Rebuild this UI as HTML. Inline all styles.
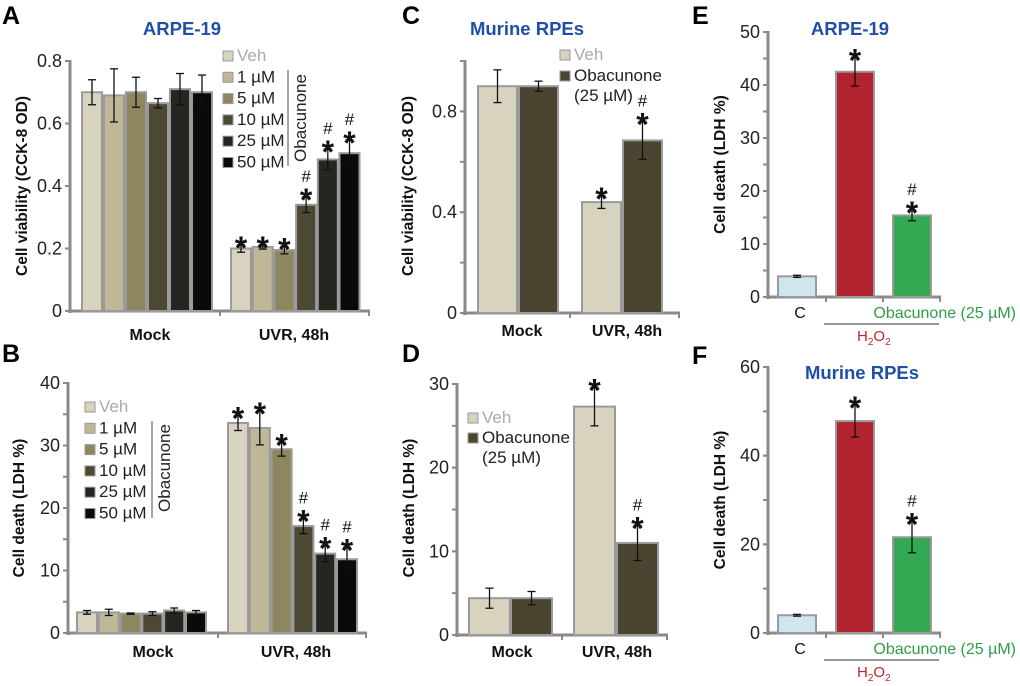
<!DOCTYPE html>
<html><head><meta charset="utf-8"><style>
html,body{margin:0;padding:0;background:#fff;}
svg{display:block;font-family:"Liberation Sans",sans-serif;}
</style></head><body>
<svg id="fig" width="1020" height="686" viewBox="0 0 1020 686" xmlns="http://www.w3.org/2000/svg"></svg>
<script>
// ---- Data ----
const doseLabels = ["Veh","1 µM","5 µM","10 µM","25 µM","50 µM"];
const groupLabels = ["Mock","UVR, 48h"];
const aMock = [0.70,0.69,0.70,0.665,0.71,0.70];
const aMockErr = [0.04,0.085,0.048,0.015,0.05,0.055];
const aUvr = [0.20,0.205,0.195,0.34,0.485,0.505];
const aUvrErr = [0.012,0.007,0.012,0.025,0.033,0.042];
const aUvrSig = ["*","*","*","*#","*#","*#"];
const aTicks = [0,0.2,0.4,0.6,0.8];
const bMock = [3.3,3.3,3.1,3.1,3.6,3.3];
const bMockErr = [0.3,0.5,0.1,0.3,0.4,0.3];
const bUvr = [33.6,32.8,29.4,17.1,12.7,11.8];
const bUvrErr = [1.2,2.7,1.1,1.2,1.3,1.9];
const bUvrSig = ["*","*","*","*#","*#","*#"];
const bTicks = [0,10,20,30,40];
const cVeh = [0.90,0.44];
const cVehErr = [0.065,0.025];
const cOba = [0.90,0.685];
const cObaErr = [0.02,0.075];
const cVehSig = ["","*"];
const cObaSig = ["","*#"];
const cTicks = [0,0.4,0.8];
const dVeh = [4.4,27.3];
const dVehErr = [1.2,2.3];
const dOba = [4.4,11.0];
const dObaErr = [0.8,2.1];
const dVehSig = ["","*"];
const dObaSig = ["","*#"];
const dTicks = [0,10,20,30];
const eVals = [3.9,42.5,15.4];
const eErr = [0.2,2.7,1.0];
const eSig = ["","*","*#"];
const eTicks = [0,10,20,30,40,50];
const fVals = [4.0,47.8,21.6];
const fErr = [0.2,3.6,3.5];
const fSig = ["","*","*#"];
const fTicks = [0,20,40,60];

const doseColors = ["#d8d3bf","#c0b799","#8e865f","#4c4833","#262620","#0a0a08"];
const twoColors = ["#d8d3bf","#4a4530"];
const hColors = ["#cfe6ee","#b1242f","#33a853"];

const NS="http://www.w3.org/2000/svg";
const svg=document.getElementById('fig');
function mk(tag,attrs,parent,name,inter){
  const e=document.createElementNS(NS,tag);
  for(const k in attrs) e.setAttribute(k,attrs[k]);
  
  
  (parent||svg).appendChild(e);
  return e;
}
function txt(s,x,y,o,parent,name){
  const t=mk('text',Object.assign({x:x,y:y},o||{}),parent,name,false);
  t.textContent=s; return t;
}

function axes(g,p){
  const sy=v=>p.y0-v/p.vmax*(p.y0-p.y1);
  mk('line',{x1:p.ax,y1:p.y1-1,x2:p.ax,y2:p.y0+2,stroke:'#8a8a8a','stroke-width':3},g,'y-axis-line');
  mk('line',{x1:p.ax-2,y1:p.y0,x2:p.xEnd,y2:p.y0,stroke:'#8a8a8a','stroke-width':3},g,'x-axis-line');
  if(p.minor){
    for(let v=0;v<=p.vmax+1e-9;v+=p.minor){
      mk('line',{x1:p.ax-5,y1:sy(v),x2:p.ax,y2:sy(v),stroke:'#8a8a8a','stroke-width':2},g,'y-minor-tick');
    }
  }
  p.ticks.forEach(v=>{
    mk('line',{x1:p.ax-5,y1:sy(v),x2:p.ax,y2:sy(v),stroke:'#8a8a8a','stroke-width':2},g,'y-tick');
    txt(p.fmt?p.fmt(v):String(v),p.ax-8,sy(v)+6,{'text-anchor':'end','font-size':18,fill:'#222'},g,'y-tick-label');
  });
  (p.groupTicks||[]).concat([p.xEnd-1]).forEach(x=>{
    mk('line',{x1:x,y1:p.y0,x2:x,y2:p.y0+5,stroke:'#8a8a8a','stroke-width':2},g,'x-tick');
  });
  return sy;
}
function bar(g,sy,x,w,v,e,color,sig,name){
  mk('rect',{x:x,y:sy(v),width:w,height:sy(0)-sy(v),fill:color,stroke:'#9a9a9a','stroke-width':2},g,name,true);
  const cx=x+w/2, t=sy(v+e), b=sy(v-e);
  const ec = '#111';
  mk('line',{x1:cx,y1:t,x2:cx,y2:b,stroke:ec,'stroke-width':1.3},g,'error-bar');
  mk('line',{x1:cx-4,y1:t,x2:cx+4,y2:t,stroke:ec,'stroke-width':1.3},g,'error-cap');
  mk('line',{x1:cx-4,y1:b,x2:cx+4,y2:b,stroke:ec,'stroke-width':1.3},g,'error-cap');
  if(sig){
    let yy=t-3;
    if(sig.includes('*')){ txt('*',cx,yy+17,{'text-anchor':'middle','font-size':32,'font-weight':'bold',fill:'#111'},g,'significance-star'); yy-=16; }
    if(sig.includes('#')){ txt('#',cx,yy+4,{'text-anchor':'middle','font-size':17,fill:'#111'},g,'significance-hash'); }
  }
}
function ylabel(g,s,x,y){
  txt(s,x,y,{'text-anchor':'middle','font-size':15.5,'font-weight':'bold',fill:'#111',transform:`rotate(-90 ${x} ${y})`},g,'y-axis-title');
}
function title(g,s,x,y){ txt(s,x,y,{'text-anchor':'middle','font-size':18.5,'font-weight':'bold',fill:'#1f4fa8'},g,'panel-title'); }
function letter(g,s,x,y){ txt(s,x,y,{'font-size':25,'font-weight':'bold',fill:'#000'},g,'panel-letter'); }
function legendRow(g,color,label,x,y,gray){
  mk('rect',{x:x,y:y-9,width:10,height:10,fill:color,stroke:'#999','stroke-width':1},g,'legend-swatch');
  txt(label,x+14,y+1,{'font-size':17,fill:gray?'#aaa':'#222'},g,'legend-entry');
}

// ---- Panel A ----
(function(){
  const g=mk('g',{},svg,'panel-a');
  letter(g,'A',2,24); title(g,'ARPE-19',182,35);
  const sy=axes(g,{ax:70,y0:311,y1:61,vmax:0.8,ticks:aTicks,xEnd:370,groupTicks:[220],fmt:v=>v===0?'0':v.toFixed(1)});
  for(let i=0;i<6;i++){
    bar(g,sy,82+i*22,20,aMock[i],aMockErr[i],doseColors[i],'','bar-mock-'+i);
    bar(g,sy,231+i*21.7,20,aUvr[i],aUvrErr[i],doseColors[i],aUvrSig[i],'bar-uvr-'+i);
  }
  doseLabels.forEach((l,i)=>legendRow(g,doseColors[i],l,223,60+i*21.3,i===0));
  mk('line',{x1:288,y1:70,x2:288,y2:166,stroke:'#888','stroke-width':1.5},g,'legend-bracket');
  txt('Obacunone',306,118,{'text-anchor':'middle','font-size':17,fill:'#222',transform:'rotate(-90 306 118)'},g,'legend-group-label');
  ylabel(g,'Cell viability (CCK-8 OD)',27,186);
  txt(groupLabels[0],150,340,{'text-anchor':'middle','font-size':16,'font-weight':'bold',fill:'#111'},g,'x-group-label');
  txt(groupLabels[1],294,340,{'text-anchor':'middle','font-size':16,'font-weight':'bold',fill:'#111'},g,'x-group-label');
})();

// ---- Panel B ----
(function(){
  const g=mk('g',{},svg,'panel-b');
  letter(g,'B',2,362);
  const sy=axes(g,{ax:68,y0:633,y1:383,vmax:40,ticks:bTicks,minor:5,xEnd:367,groupTicks:[218]});
  for(let i=0;i<6;i++){
    bar(g,sy,77+i*21.8,20,bMock[i],bMockErr[i],doseColors[i],'','bar-mock-'+i);
    bar(g,sy,228+i*21.8,20,bUvr[i],bUvrErr[i],doseColors[i],bUvrSig[i],'bar-uvr-'+i);
  }
  doseLabels.forEach((l,i)=>legendRow(g,doseColors[i],l,85,411+i*21.3,i===0));
  mk('line',{x1:152,y1:421,x2:152,y2:518,stroke:'#888','stroke-width':1.5},g,'legend-bracket');
  txt('Obacunone',170,468,{'text-anchor':'middle','font-size':17,fill:'#222',transform:'rotate(-90 170 468)'},g,'legend-group-label');
  ylabel(g,'Cell death (LDH %)',24,508);
  txt(groupLabels[0],153,657,{'text-anchor':'middle','font-size':16,'font-weight':'bold',fill:'#111'},g,'x-group-label');
  txt(groupLabels[1],296,657,{'text-anchor':'middle','font-size':16,'font-weight':'bold',fill:'#111'},g,'x-group-label');
})();

// ---- Panel C ----
(function(){
  const g=mk('g',{},svg,'panel-c');
  letter(g,'C',402,24); title(g,'Murine RPEs',527,35);
  const sy=axes(g,{ax:465,y0:313,y1:61,vmax:1.0,ticks:cTicks,minor:0.2,xEnd:680,groupTicks:[570],fmt:v=>v===0?'0':v.toFixed(1)});
  for(let i=0;i<2;i++){
    bar(g,sy,478+i*104,39,cVeh[i],cVehErr[i],twoColors[0],cVehSig[i],'bar-veh-'+i);
    bar(g,sy,519+i*104,39,cOba[i],cObaErr[i],twoColors[1],cObaSig[i],'bar-obacunone-'+i);
  }
  legendRow(g,twoColors[0],'Veh',560,59,true);
  legendRow(g,twoColors[1],'Obacunone',560,80,false);
  txt('(25 µM)',574,101,{'font-size':17,fill:'#222'},g,'legend-entry');
  ylabel(g,'Cell viability (CCK-8 OD)',413,186);
  txt(groupLabels[0],522,336,{'text-anchor':'middle','font-size':16,'font-weight':'bold',fill:'#111'},g,'x-group-label');
  txt(groupLabels[1],627,336,{'text-anchor':'middle','font-size':16,'font-weight':'bold',fill:'#111'},g,'x-group-label');
})();

// ---- Panel D ----
(function(){
  const g=mk('g',{},svg,'panel-d');
  letter(g,'D',402,362);
  const sy=axes(g,{ax:457,y0:635,y1:384,vmax:30,ticks:dTicks,minor:5,xEnd:668,groupTicks:[562]});
  for(let i=0;i<2;i++){
    bar(g,sy,469+i*105,41,dVeh[i],dVehErr[i],twoColors[0],dVehSig[i],'bar-veh-'+i);
    bar(g,sy,511+i*106,41,dOba[i],dObaErr[i],twoColors[1],dObaSig[i],'bar-obacunone-'+i);
  }
  legendRow(g,twoColors[0],'Veh',468,422,true);
  legendRow(g,twoColors[1],'Obacunone',468,442,false);
  txt('(25 µM)',482,463,{'font-size':17,fill:'#222'},g,'legend-entry');
  ylabel(g,'Cell death (LDH %)',414,508);
  txt(groupLabels[0],512,657,{'text-anchor':'middle','font-size':16,'font-weight':'bold',fill:'#111'},g,'x-group-label');
  txt(groupLabels[1],617,657,{'text-anchor':'middle','font-size':16,'font-weight':'bold',fill:'#111'},g,'x-group-label');
})();

// ---- Panels E & F ----
function h2o2Panel(name,L,ly,ttl,ty,vals,errs,sigs,ticks,vmax,y0,y1,minor,off){
  const g=mk('g',{},svg,name);
  letter(g,L,692,ly); title(g,ttl,ty[0],ty[1]);
  const sy=axes(g,{ax:768,y0:y0,y1:y1,vmax:vmax,ticks:ticks,minor:minor,xEnd:941,groupTicks:[826,883]});
  const xs=[778,836,893];
  for(let i=0;i<3;i++) bar(g,sy,xs[i],38,vals[i],errs[i],hColors[i],sigs[i],'bar-'+i);
  ylabel(g,'Cell death (LDH %)',725,(y0+y1)/2);
  txt('C',800,off+21,{'text-anchor':'middle','font-size':16,fill:'#111'},g,'x-label-control');
  txt('Obacunone (25 µM)',1016,off+21,{'text-anchor':'end','font-size':16,fill:'#2e9e48'},g,'x-label-obacunone');
  mk('line',{x1:824,y1:off+27,x2:939,y2:off+27,stroke:'#777','stroke-width':1.5},g,'h2o2-bracket');
  const t=txt('H',857,off+44,{'font-size':15,fill:'#c0272d'},g,'x-label-h2o2');
  const s1=document.createElementNS(NS,'tspan'); s1.setAttribute('font-size','10'); s1.setAttribute('dy','4'); s1.textContent='2'; t.appendChild(s1);
  const s2=document.createElementNS(NS,'tspan'); s2.setAttribute('dy','-4'); s2.textContent='O'; t.appendChild(s2);
  const s3=document.createElementNS(NS,'tspan'); s3.setAttribute('font-size','10'); s3.setAttribute('dy','4'); s3.textContent='2'; t.appendChild(s3);
}
h2o2Panel('panel-e','E',24,'ARPE-19',[850,35],eVals,eErr,eSig,eTicks,50,297,32,5,297);
h2o2Panel('panel-f','F',364,'Murine RPEs',[862,379],fVals,fErr,fSig,fTicks,60,633,367,10,633);
</script>
</body></html>
